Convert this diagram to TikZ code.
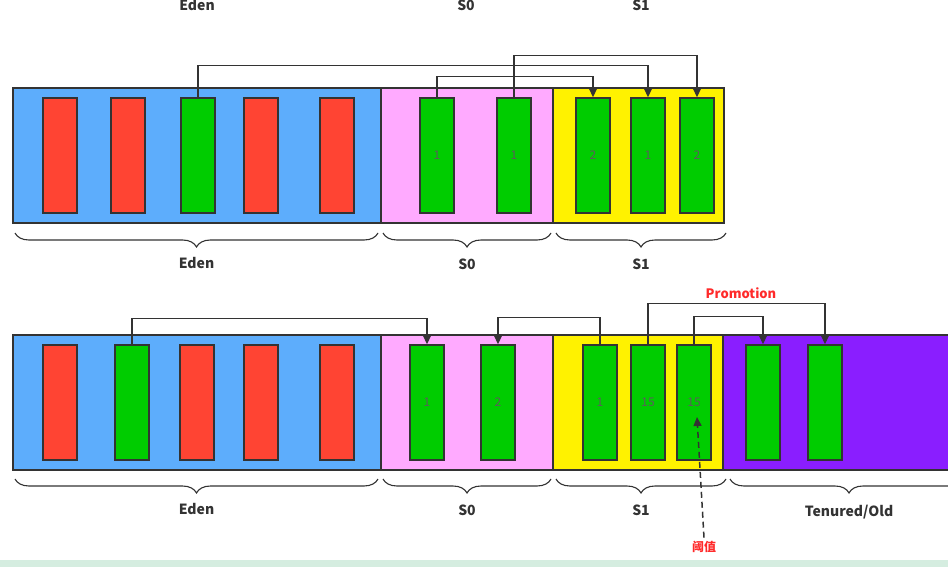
\documentclass[tikz,border=0pt]{standalone}
\usepackage{fontspec}
\setmainfont{Noto Sans CJK SC}
\usetikzlibrary{arrows.meta,decorations.pathreplacing}
\definecolor{edenblue}{HTML}{5DADFC}
\definecolor{survpink}{HTML}{FFAAFF}
\definecolor{survyellow}{HTML}{FFF200}
\definecolor{oldpurple}{HTML}{8A1EFF}
\definecolor{objred}{HTML}{FF4433}
\definecolor{objgreen}{HTML}{00CC00}
\definecolor{edgegray}{HTML}{333333}
\definecolor{hotred}{HTML}{FF2A2A}
\definecolor{mintband}{HTML}{D5EDE0}
\tikzset{
  area/.style={draw=edgegray, line width=1.2pt},
  obj/.style={draw=edgegray, line width=1.3pt, minimum width=34pt, minimum height=115pt,
    inner sep=0pt, font=\fontsize{12}{12}\selectfont, text=edgegray!80},
  dead/.style={obj, fill=objred},
  live/.style={obj, fill=objgreen},
  link/.style={draw=edgegray, line width=1.5pt, -{Triangle[length=9pt,width=8pt]}},
  span/.style={draw=edgegray, line width=1.1pt, decorate, decoration={brace, mirror, amplitude=14pt}},
  spacename/.style={font=\bfseries\fontsize{14}{14}\selectfont, text=edgegray},
  hotlabel/.style={font=\bfseries\fontsize{13}{13}\selectfont, text=hotred}
}
\begin{document}
\begin{tikzpicture}[x=1pt,y=-1pt]
\fill[white] (0,0) rectangle (948,567);
\useasboundingbox (0,0) rectangle (948,567);
\fill[mintband] (0,560) rectangle (948,567);

% names cut at the top
\node[spacename, anchor=base] (capeden) at (197,11) {Eden};
\node[spacename, anchor=base] (caps0) at (466,11) {S0};
\node[spacename, anchor=base] (caps1) at (641,11) {S1};

% first minor gc
\fill[edenblue] (13,88) rectangle (381,223);
\fill[survpink] (381,88) rectangle (553,223);
\fill[survyellow] (553,88) rectangle (724,223);
\draw[area] (13,88) rectangle (724,223);
\draw[area] (381,88) -- (381,223) (553,88) -- (553,223);

\foreach \cx/\kind [count=\i] in {60/dead,128/dead,198/live,261/dead,337/dead}
  \node[\kind] (te\i) at (\cx,155.5) {};
\node[live] (ts0a) at (437,155.5) {1};
\node[live] (ts0b) at (514,155.5) {1};
\node[live] (ts1a) at (593,155.5) {2};
\node[live] (ts1b) at (648,155.5) {1};
\node[live] (ts1c) at (697,155.5) {2};

\draw[link] (te3.north) -- ++(0,-32) -| (ts1b.north);
\draw[link] (ts0a.north) -- ++(0,-21) -| (ts1a.north);
\draw[link] (ts0b.north) -- ++(0,-42) -| (ts1c.north);

\draw[span] (15,233) -- (378,233) node[midway, below=20pt, spacename] (leden) {Eden};
\draw[span] (383,233) -- (551,233) node[midway, below=22pt, spacename] (ls0) {S0};
\draw[span] (556,233) -- (726,233) node[midway, below=22pt, spacename] (ls1) {S1};

% second minor gc with promotion
\fill[edenblue] (13,335) rectangle (381,470);
\fill[survpink] (381,335) rectangle (553,470);
\fill[survyellow] (553,335) rectangle (723,470);
\fill[oldpurple] (723,335) rectangle (948,470);
\draw[area] (948,335) -- (13,335) -- (13,470) -- (948,470);
\draw[area] (381,335) -- (381,470) (553,335) -- (553,470) (723,335) -- (723,470);

\foreach \cx/\kind [count=\i] in {60/dead,132/live,197/dead,261/dead,337/dead}
  \node[\kind] (be\i) at (\cx,402.5) {};
\node[live] (bs0a) at (427,402.5) {1};
\node[live] (bs0b) at (498,402.5) {2};
\node[live] (bs1a) at (600,402.5) {1};
\node[live] (bs1b) at (648,402.5) {15};
\node[live] (bs1c) at (694,402.5) {15};
\node[live] (bolda) at (763,402.5) {};
\node[live] (boldb) at (825,402.5) {};

\draw[link] (be2.north) -- ++(0,-26) -| (bs0a.north);
\draw[link] (bs1a.north) -- ++(0,-27) -| (bs0b.north);
\draw[link] (bs1b.north) -- ++(0,-41) -| (boldb.north);
\draw[link] (bs1c.north) -- ++(0,-28) -| (bolda.north);
\node[hotlabel] (promo) at (741,293) {Promotion};

\draw[span] (15,479) -- (378,479) node[midway, below=20pt, spacename] (beden) {Eden};
\draw[span] (383,479) -- (551,479) node[midway, below=22pt, spacename] (bs0) {S0};
\draw[span] (556,479) -- (726,479) node[midway, below=22pt, spacename] (bs1) {S1};
\draw[span] (730,479) -- (968,479) node[midway, below=22pt, spacename] (bold) {Tenured/Old};

\coordinate (thtip) at (697,417);
\node[hotlabel, font=\bfseries\fontsize{12}{12}\selectfont] (thv) at (704,547) {阈值};
\draw[link, dashed, dash pattern=on 6pt off 4pt] (thv.north) -- (thtip);
\end{tikzpicture}
\end{document}
